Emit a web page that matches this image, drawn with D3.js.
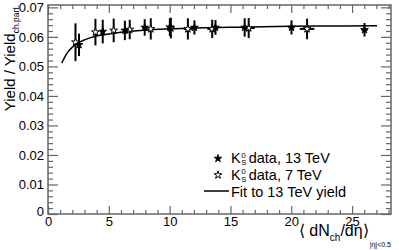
<!DOCTYPE html>
<html>
<head>
<meta charset="utf-8">
<script src="https://cdn.jsdelivr.net/npm/d3@7"></script>
<style>
  body { margin: 0; background: #fff; }
  text { font-family: "Liberation Sans", Arial, sans-serif; fill: #000; }
</style>
</head>
<body>
<svg id="chart" width="399" height="250"></svg>
<script>
// K0S yield / charged particle yield vs multiplicity
const mult13 = [26.02, 20.02, 16.17, 13.77, 12.04, 10.02, 7.95, 6.32, 4.50, 2.55];
const ratio13 = [0.0624, 0.0632, 0.0632, 0.0632, 0.0632, 0.0633, 0.0632, 0.0622, 0.0618, 0.0573];
const err13 = [0.0023, 0.0024, 0.0031, 0.0025, 0.0024, 0.0030, 0.0028, 0.0033, 0.0040, 0.0038];
const xerr13 = [0.25, 0.25, 0.25, 0.25, 0.2, 0.2, 0.2, 0.15, 0.15, 0.1];

const mult7 = [21.3, 16.5, 13.5, 11.5, 10.1, 8.45, 6.72, 5.40, 3.90, 2.26];
const ratio7 = [0.0627, 0.0630, 0.0627, 0.0627, 0.0630, 0.0627, 0.0625, 0.0622, 0.0616, 0.0582];
const err7 = [0.0035, 0.0034, 0.0031, 0.0036, 0.0035, 0.0036, 0.0033, 0.0040, 0.0045, 0.0064];
const xerr7 = [0.6, 0.5, 0.4, 0.35, 0.3, 0.25, 0.2, 0.2, 0.15, 0.1];

// fit curve
const fitX = [1.13, 1.5, 2, 2.5, 3, 4, 5, 6, 8, 10, 13, 16, 20, 24, 27.05];
const fitY = [0.0511, 0.0541, 0.0565, 0.0580, 0.0590, 0.0603, 0.0610, 0.0616, 0.0623, 0.0627, 0.0631, 0.0633, 0.0636, 0.0637, 0.0638];

const xMajor = [0, 5, 10, 15, 20, 25];
const yMajor = [0, 0.01, 0.02, 0.03, 0.04, 0.05, 0.06, 0.07];

const svg = d3.select("#chart");
const L = 48, R = 391, T = 5, B = 214;

const x = d3.scaleLinear().domain([0, 28.2]).range([L, R]);
const y = d3.scaleLinear().domain([0, 0.0708]).range([B, T]);

const xMinor = d3.range(0, 28.01, 1).filter(v => v % 5 !== 0);
const yMinor = d3.range(0, 0.0705, 0.002).filter(v => Math.abs(v * 100 - Math.round(v * 100)) > 1e-6);

const axisColor = "#666";

function drawAxis(gen, tr) {
    const g = svg.append("g").attr("transform", tr).call(gen);
    g.select(".domain").remove();
    g.selectAll(".tick line").attr("stroke", axisColor).attr("stroke-width", 1.2);
    return g;
}

// bottom
drawAxis(d3.axisBottom(x).tickValues(xMinor).tickSize(-4).tickFormat(""), `translate(0,${B})`);
const gx = drawAxis(d3.axisBottom(x).tickValues(xMajor).tickSize(-8).tickPadding(3).tickFormat(d3.format("d")), `translate(0,${B})`);
gx.selectAll("text").attr("font-size", 13).attr("font-family", "Liberation Sans, Arial, sans-serif").attr("fill", "#000");
// top
drawAxis(d3.axisTop(x).tickValues(xMinor).tickSize(-4).tickFormat(""), `translate(0,${T})`);
drawAxis(d3.axisTop(x).tickValues(xMajor).tickSize(-8).tickFormat(""), `translate(0,${T})`);
// left
drawAxis(d3.axisLeft(y).tickValues(yMinor).tickSize(-5).tickFormat(""), `translate(${L},0)`);
const gy = drawAxis(d3.axisLeft(y).tickValues(yMajor).tickSize(-10).tickPadding(4)
    .tickFormat(d => d === 0 ? "0" : d.toFixed(2)), `translate(${L},0)`);
gy.selectAll("text").attr("font-size", 13).attr("font-family", "Liberation Sans, Arial, sans-serif").attr("fill", "#000");
gy.selectAll(".tick").filter(d => d === 0).select("text").attr("dy", "0.1em");
// right
drawAxis(d3.axisRight(y).tickValues(yMinor).tickSize(-5).tickFormat(""), `translate(${R},0)`);
drawAxis(d3.axisRight(y).tickValues(yMajor).tickSize(-10).tickFormat(""), `translate(${R},0)`);

svg.append("rect")
    .attr("x", L).attr("y", T).attr("width", R - L).attr("height", B - T)
    .attr("fill", "none").attr("stroke", axisColor).attr("stroke-width", 1.5);

// fit line
const fitPts = fitX.map((v, i) => [v, fitY[i]]);
svg.append("path")
    .datum(fitPts)
    .attr("fill", "none").attr("stroke", "#000").attr("stroke-width", 1.5)
    .attr("d", d3.line().x(d => x(d[0])).y(d => y(d[1])).curve(d3.curveMonotoneX));

const star = d3.symbol().type(d3.symbolStar).size(19);

function drawSeries(mx, my, ey, ex, filled) {
    const pts = mx.map((v, i) => ({ x: v, y: my[i], ey: ey[i], ex: ex[i] }));
    const g = svg.append("g");
    g.selectAll(".ev").data(pts).join("line")
        .attr("x1", d => x(d.x)).attr("x2", d => x(d.x))
        .attr("y1", d => y(d.y - d.ey)).attr("y2", d => y(d.y + d.ey))
        .attr("stroke", "#000").attr("stroke-width", 2);
    g.selectAll(".eh").data(pts).join("line")
        .attr("x1", d => x(d.x - d.ex)).attr("x2", d => x(d.x + d.ex))
        .attr("y1", d => y(d.y)).attr("y2", d => y(d.y))
        .attr("stroke", "#000").attr("stroke-width", 2);
    g.selectAll("path").data(pts).join("path")
        .attr("d", star)
        .attr("transform", d => `translate(${x(d.x)},${y(d.y)})`)
        .attr("fill", filled ? "#000" : "#fff")
        .attr("stroke", "#000").attr("stroke-width", filled ? 0.8 : 1);
}

drawSeries(mult7, ratio7, err7, xerr7, false);
drawSeries(mult13, ratio13, err13, xerr13, true);

// y title
const yt = svg.append("text")
    .attr("transform", `translate(15,${T}) rotate(-90)`)
    .attr("text-anchor", "end")
    .attr("font-size", 15);
yt.append("tspan").text("Yield  / Yield");
yt.append("tspan").attr("font-size", 8.5).attr("dy", 4).text("ch.part.");

// x title
const xt = svg.append("text")
    .attr("x", R).attr("y", 236)
    .attr("text-anchor", "end")
    .attr("font-size", 16);
xt.append("tspan").text("\u27E8 dN");
xt.append("tspan").attr("font-size", 10).attr("dy", 5).text("ch");
xt.append("tspan").attr("dy", -5).text("/d\u03B7\u27E9");
xt.append("tspan").attr("font-size", 7).attr("dx", 1).attr("dy", 11).text("|\u03B7|<0.5");

// legend
const legX = 218, legText = 231, legFont = 14.5;
const legRows = [
    { y: 158.5, label: "data, 13 TeV", type: "filled" },
    { y: 175, label: "data, 7 TeV", type: "open" },
    { y: 191, label: "Fit to 13 TeV yield", type: "line" }
];
legRows.forEach(r => {
    if (r.type === "line") {
        svg.append("line").attr("x1", 204).attr("x2", 229).attr("y1", r.y).attr("y2", r.y)
            .attr("stroke", "#000").attr("stroke-width", 1.5);
        svg.append("text").attr("x", legText).attr("y", r.y + 5.5).attr("font-size", legFont).text(r.label);
    } else {
        svg.append("path").attr("d", star)
            .attr("transform", `translate(${legX},${r.y})`)
            .attr("fill", r.type === "filled" ? "#000" : "#fff")
            .attr("stroke", "#000").attr("stroke-width", r.type === "filled" ? 0.8 : 1);
        const k = svg.append("text").attr("x", legText).attr("y", r.y + 4.5).attr("font-size", legFont).text("K");
        const kw = k.node().getComputedTextLength();
        svg.append("text").attr("x", legText + kw + 0.5).attr("y", r.y - 1).attr("font-size", 8).text("0");
        svg.append("text").attr("x", legText + kw + 0.5).attr("y", r.y + 6.5).attr("font-size", 7.5).text("S");
        svg.append("text").attr("x", legText + kw + 8).attr("y", r.y + 4.5).attr("font-size", legFont).text(r.label);
    }
});
</script>
</body>
</html>
